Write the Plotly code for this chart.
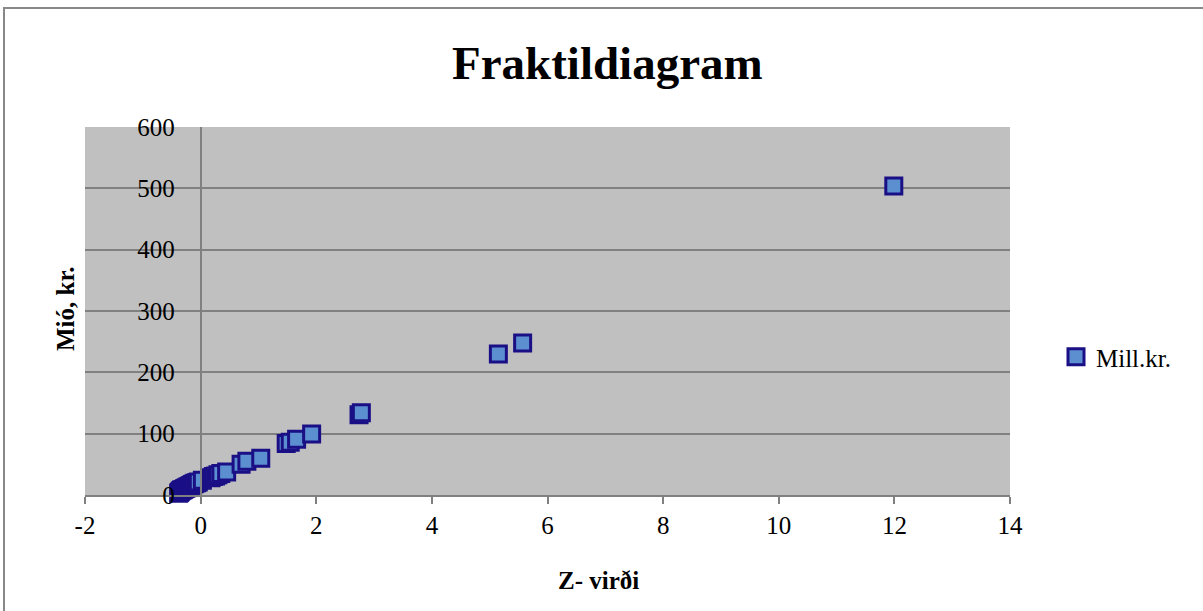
import plotly.graph_objects as go

# Z-values (standardised) and amounts (Mill.kr.)
z_values = [-0.38, -0.37, -0.36, -0.35, -0.34, -0.33, -0.31, -0.30, -0.28, -0.26,
            -0.24, -0.22, -0.20, -0.18, -0.16, -0.14, -0.12, -0.10, -0.07, -0.04,
            0.03, 0.18, 0.22, 0.26, 0.30, 0.35, 0.45, 0.70, 0.80, 1.04,
            1.48, 1.55, 1.66, 1.92, 2.74, 2.78, 5.15, 5.57, 11.99]
amounts = [3, 4, 5, 6, 7, 8, 8, 9, 10, 11,
           12, 13, 14, 15, 16, 17, 18, 19, 20, 21,
           24, 28, 30, 31, 33, 35, 37.5, 50, 55, 60,
           84, 86, 91, 99.5, 131, 134, 230, 248, 504]

series_name = "Mill.kr."
title_text = "Fraktildiagram"
x_title = "Z- virði"
y_title = "Mió, kr."
x_ticks = [-2, 0, 2, 4, 6, 8, 10, 12, 14]
x_tick_labels = ["-2", "0", "2", "4", "6", "8", "10", "12", "14"]
y_ticks = [0, 100, 200, 300, 400, 500, 600]

W, H = 1203, 611
ML, MR, MT, MB = 85, 193, 127, 116
PW = W - ML - MR
PH = H - MT - MB

def px_x(p):
    return (p - ML) / PW

def px_y(p):
    return (H - MB - p) / PH

serif = "Liberation Serif, Times New Roman, serif"

fig = go.Figure()
fig.add_trace(go.Scatter(
    x=z_values, y=amounts, mode="markers", name=series_name,
    marker=dict(symbol="square", size=16, color="#5B8FD0",
                line=dict(color="#1A0F85", width=3)),
    cliponaxis=False,
))

fig.update_layout(
    width=W, height=H,
    margin=dict(l=ML, r=MR, t=MT, b=MB),
    paper_bgcolor="white",
    plot_bgcolor="#C0C0C0",
    font=dict(family=serif, color="black", size=25),
    showlegend=True,
    legend=dict(x=px_x(1056), y=px_y(357), xanchor="left", yanchor="middle",
                font=dict(family=serif, size=25), bgcolor="rgba(0,0,0,0)"),
    xaxis=dict(range=[-2, 14], tickvals=x_ticks, ticktext=x_tick_labels,
               ticks="outside", ticklen=7,
               tickcolor="#808080", tickwidth=2, showgrid=False, zeroline=False,
               showline=True, linecolor="#808080", linewidth=2,
               tickfont=dict(family=serif, size=25), ticklabelstandoff=0),
    yaxis=dict(range=[0, 600], tickvals=y_ticks, anchor="free",
               position=2 / 16, showline=True, linecolor="#808080", linewidth=2,
               showgrid=True, gridcolor="#808080", gridwidth=2, zeroline=False,
               ticks="", tickfont=dict(family=serif, size=25),
               ticklabelstandoff=20),
)

fig.add_annotation(text="<b>" + title_text + "</b>", xref="paper", yref="paper",
                   x=px_x(607), y=px_y(63), showarrow=False,
                   font=dict(family=serif, size=47), xanchor="center", yanchor="middle")
fig.add_annotation(text="<b>" + x_title + "</b>", xref="paper", yref="paper",
                   x=px_x(598), y=px_y(580), showarrow=False,
                   font=dict(family=serif, size=25), xanchor="center", yanchor="middle")
fig.add_annotation(text="<b>" + y_title + "</b>", xref="paper", yref="paper",
                   x=px_x(65), y=px_y(309), showarrow=False, textangle=-90,
                   font=dict(family=serif, size=25), xanchor="center", yanchor="middle")

fig.add_shape(type="rect", xref="paper", yref="paper",
              x0=px_x(4), x1=px_x(1215), y0=px_y(625), y1=px_y(8),
              line=dict(color="#888888", width=2), layer="above")

fig.write_html("out.html", config={"displayModeBar": False},
               post_script="document.body.style.margin='0';")
